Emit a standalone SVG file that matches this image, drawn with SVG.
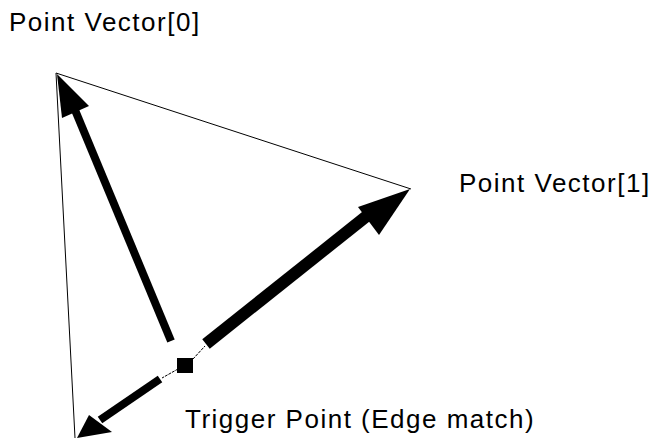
<svg xmlns="http://www.w3.org/2000/svg" width="654" height="441" viewBox="0 0 654 441">
<style>
.lbl{font-family:"Liberation Sans",Arial,sans-serif;font-size:26px;letter-spacing:1.5px;fill:#000}
.edge{stroke:#000;stroke-width:1;fill:none}
.thin{stroke:#000;stroke-width:1;stroke-dasharray:3 1;fill:none}
</style>
<rect width="654" height="441" fill="#fff"/>
<g id="triangle">
<line class="edge" x1="56" y1="73" x2="411" y2="189"/>
<line class="edge" x1="56" y1="73" x2="75" y2="438"/>
</g>
<g id="connectors">
<line x1="171" y1="341" x2="75" y2="110" stroke="#000" stroke-width="8"/>
<polygon points="57,74 62,118 89,106" fill="#000"/>
<line x1="206" y1="344" x2="368" y2="215" stroke="#000" stroke-width="12"/>
<polygon points="410,189 358,207 379,235" fill="#000"/>
<line class="thin" x1="193" y1="359" x2="205" y2="346"/>
<line x1="160" y1="379" x2="100" y2="420" stroke="#000" stroke-width="8"/>
<polygon points="77,438 89,415 112,432" fill="#000"/>
<line class="thin" x1="178" y1="369" x2="162" y2="378"/>
</g>
<g id="trigger">
<rect x="177" y="358" width="16" height="15" fill="#000"/>
</g>
<g id="labels">
<text class="lbl" x="9" y="31">Point Vector[0]</text>
<text class="lbl" x="459" y="192">Point Vector[1]</text>
<text class="lbl" x="185" y="428">Trigger Point (Edge match)</text>
</g>
</svg>
